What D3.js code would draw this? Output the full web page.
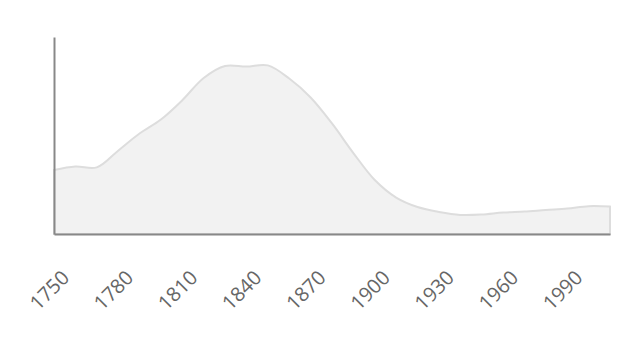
<!DOCTYPE html>
<html>
<head>
<meta charset="utf-8">
<script src="https://cdn.jsdelivr.net/npm/d3@7"></script>
<style>
  body { margin: 0; background: #fff; }
  .axis path { stroke: #888; stroke-width: 2; }
  .axis text { font-family: "Open Sans", sans-serif; font-size: 20px; fill: #666; }
  .density { fill: #f2f2f2; stroke: #ddd; stroke-width: 2; }
</style>
</head>
<body>
<div class="container"></div>
<script>
var years = [1750, 1760, 1770, 1780, 1790, 1800, 1810, 1820, 1830, 1840, 1850, 1860, 1870, 1880,
             1890, 1900, 1910, 1920, 1930, 1940, 1950, 1960, 1970, 1980, 1990, 2000, 2010];
var share = [32.5, 34.3, 33.8, 42.3, 51.0, 58.1, 67.9, 79.2, 85.3, 85.0, 85.6, 78.9, 69.3, 56.1,
             41.1, 27.4, 18.5, 13.7, 11.2, 9.7, 9.9, 10.9, 11.4, 12.2, 12.9, 14.1, 13.9];
var tickYears = [1750, 1780, 1810, 1840, 1870, 1900, 1930, 1960, 1990];

const WIDTH = 622;
const HEIGHT = 338;
const LEFT = 54, RIGHT = 610, TOP = 37, BOTTOM = 234;

var translate = function (x, y) {
  return "translate(" + x + "," + y + ")";
};

var svg = d3.select('.container').append('svg')
  .attr('width', WIDTH)
  .attr('height', HEIGHT);

var xScale = d3.scaleLinear()
  .domain([1750, 2010])
  .range([LEFT, RIGHT]);

var yScale = d3.scaleLinear()
  .domain([0, 100])
  .range([BOTTOM, TOP]);

var area = d3.area()
  .x(function (d, i) { return xScale(years[i]); })
  .y0(yScale(0))
  .y1(function (d) { return yScale(d); })
  .curve(d3.curveCatmullRom);

svg.append('path')
  .attr('class', 'density')
  .attr('d', area(share));

var xAxis = d3.axisBottom(xScale)
  .tickValues(tickYears)
  .tickFormat(d3.format('d'))
  .tickSize(0);

svg.append('g')
  .attr('class', 'axis')
  .attr('transform', translate(0, BOTTOM))
  .call(xAxis)
  .selectAll('text')
  .attr('y', 0)
  .attr('dy', 0)
  .style('text-anchor', 'end')
  .attr('transform', translate(16, 45) + ' rotate(-45)');

var yAxis = d3.axisLeft(yScale).ticks(0).tickSize(0);

svg.append('g')
  .attr('class', 'axis')
  .attr('transform', translate(LEFT, 0))
  .call(yAxis);
</script>
</body>
</html>
